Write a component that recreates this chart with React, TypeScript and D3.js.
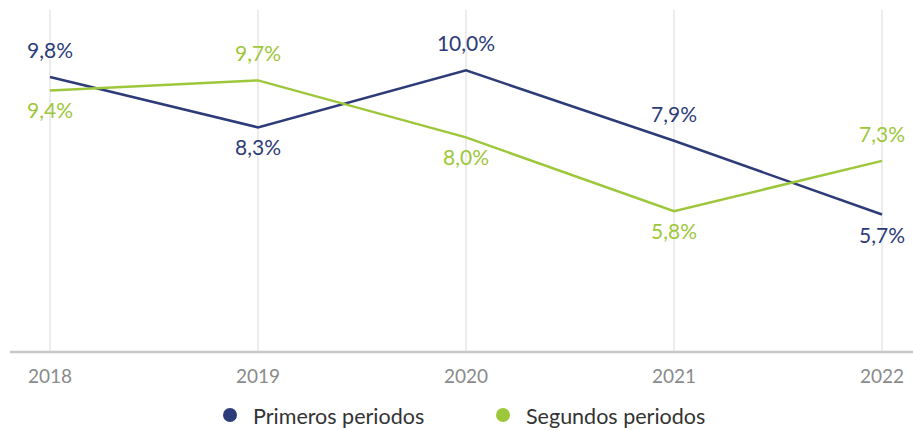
import React from "react";
import * as d3 from "d3";

const years = ["2018", "2019", "2020", "2021", "2022"];
const primeros = [9.8, 8.3, 10.0, 7.9, 5.7];
const segundos = [9.4, 9.7, 8.0, 5.8, 7.3];
const primerosSide = ["above", "below", "above", "above", "below"];
const segundosSide = ["below", "above", "below", "below", "above"];
const seriesNames = ["Primeros periodos", "Segundos periodos"];

const W = 913;
const H = 430;
const BLUE = "#2d3b78";
const GREEN = "#9dc73a";
const FONT = "Lato, 'Open Sans', sans-serif";

const fmt = (v: number) => v.toFixed(1).replace(".", ",") + "%";

export default function App() {
  const x = d3.scalePoint<string>().domain(years).range([50, 882]);
  const y = d3.scaleLinear().domain([1.6, 11.8]).range([352, 10]);
  const line = d3
    .line<number>()
    .x((_, i) => x(years[i]) as number)
    .y((d) => y(d));

  const series = [
    { name: seriesNames[0], values: primeros, sides: primerosSide, color: BLUE },
    { name: seriesNames[1], values: segundos, sides: segundosSide, color: GREEN },
  ];

  return (
    <svg
      width={W}
      height={H}
      style={{ position: "absolute", left: 0, top: 0 }}
      fontFamily={FONT}
    >
      {years.map((yr) => (
        <line
          key={yr}
          x1={x(yr)}
          x2={x(yr)}
          y1={y(11.8)}
          y2={y(1.6)}
          stroke="#e6e6e6"
          strokeWidth={1.5}
        />
      ))}
      <line x1={10} x2={W} y1={352} y2={352} stroke="#c8c8c8" strokeWidth={2.5} />
      {years.map((yr) => (
        <text
          key={yr}
          x={x(yr)}
          y={383}
          textAnchor="middle"
          fontSize={19}
          fill="#8a8a8a"
        >
          {yr}
        </text>
      ))}
      {series.map((s) => (
        <path
          key={s.name}
          d={line(s.values) || ""}
          fill="none"
          stroke={s.color}
          strokeWidth={2.5}
          strokeLinejoin="miter"
        />
      ))}
      {series.map((s) =>
        s.values.map((v, i) => (
          <text
            key={s.name + i}
            x={x(years[i])}
            y={s.sides[i] === "above" ? y(v) - 19 : y(v) + 28}
            textAnchor="middle"
            fontSize={21}
            fill={s.color}
          >
            {fmt(v)}
          </text>
        ))
      )}
      {series.map((s, i) => {
        const cx = i === 0 ? 230 : 503;
        return (
          <g key={s.name}>
            <circle cx={cx} cy={415} r={7} fill={s.color} />
            <text x={cx + 23} y={424} fontSize={21.5} fill="#333">
              {s.name}
            </text>
          </g>
        );
      })}
    </svg>
  );
}
